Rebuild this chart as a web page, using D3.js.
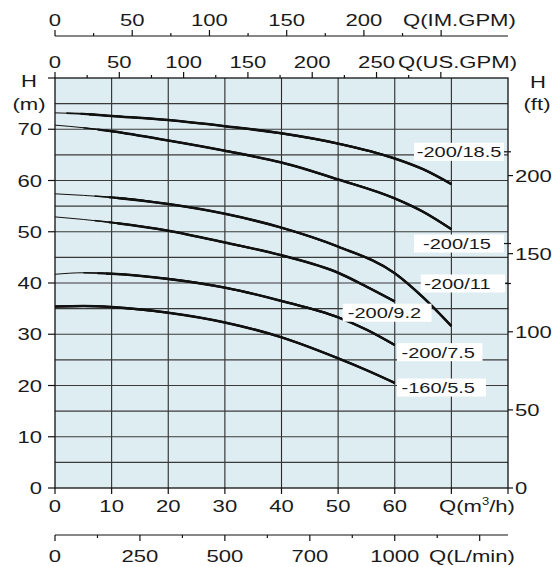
<!DOCTYPE html>
<html><head><meta charset="utf-8">
<script src="https://cdn.jsdelivr.net/npm/d3@7"></script>
<style>html,body{margin:0;padding:0;background:#fff}svg{display:block}text{font-family:"Liberation Sans",Arial,sans-serif;fill:#1a1a1a}</style>
</head><body><svg id="c" width="560" height="567"></svg>
<script>
// ---- data ----
const q70 = [0, 5, 10, 20, 30, 40, 50, 60, 65, 70];
const q60 = [0, 5, 10, 20, 30, 40, 50, 55, 60];
const h18_5 = [73.2, 73.0, 72.6, 71.8, 70.6, 69.2, 67.2, 64.3, 62.2, 59.3];
const h15   = [70.8, 70.3, 69.6, 67.8, 65.8, 63.5, 60.2, 56.5, 53.9, 50.5];
const h11   = [57.4, 57.1, 56.7, 55.4, 53.5, 50.8, 47.1, 41.9, 37.2, 31.6];
const h9_2  = [52.9, 52.4, 51.8, 50.2, 47.9, 45.4, 42.0, 39.3, 36.4];
const h7_5  = [41.7, 42.0, 41.8, 40.8, 39.1, 36.5, 33.3, 30.9, 27.9];
const h5_5  = [35.4, 35.5, 35.3, 34.2, 32.3, 29.4, 25.3, 23.0, 20.5];
const seriesNames = ["-200/18.5", "-200/15", "-200/11", "-200/9.2", "-200/7.5", "-160/5.5"];
const seriesQ = [q70, q70, q70, q60, q60, q60];
const seriesH = [h18_5, h15, h11, h9_2, h7_5, h5_5];
const thinTo = [6, 9, 11, 11, 9, 0];           // start of operating range (m3/h)
// label anchors in data units: [box q0, box q1, text q, centre H]
const labelAnchors = [[63.4, 79.3, 63.9, 65.6], [63.4, 79.3, 65.0, 47.7], [64.6, 79.5, 65.2, 39.9],
                      [50.8, 66.5, 51.7, 34.2], [60.4, 75.5, 61.2, 26.5], [60.4, 76.1, 61.2, 19.6]];
const qTicks = [0, 10, 20, 30, 40, 50, 60];
const hTicks = [0, 10, 20, 30, 40, 50, 60, 70];
const ftTicks = [0, 50, 100, 150, 200];
const imTickLabels = [0, 50, 100, 150, 200];
const usTickLabels = [0, 50, 100, 150, 200, 250];
const lminTickLabels = [[0, "0"], [250, "250"], [500, "500"], [750, "700"], [1000, "1000"]];

// ---- layout ----
const svg = d3.select("#c");
const L = 55, R = 508, T = 78, B = 488;
const x = d3.scaleLinear([0, 80], [L, R]);
const y = d3.scaleLinear([0, 80], [B, T]);
const yFt = d3.scaleLinear([0, 80 * 3.28084], [B, T]);
const xUS = d3.scaleLinear([0, 80 / 0.227125], [L, R]);
const xIM = d3.scaleLinear([0, 80 / 0.272765], [L, R]);
const xLm = d3.scaleLinear([0, 80 / 0.06], [L, R]);
const SX = 1.3, FS = 17;

function txt(px, py, s, anchor, size) {
  return svg.append("text").attr("transform", `translate(${px},${py}) scale(${SX},1)`)
    .attr("text-anchor", anchor || "middle").attr("font-size", size || FS).text(s);
}
function tick(x1, y1, x2, y2, w) {
  svg.append("line").attr("x1", x1).attr("y1", y1).attr("x2", x2).attr("y2", y2)
    .attr("stroke", "#111").attr("stroke-width", w || 1.2);
}

// background
svg.append("rect").attr("x", L).attr("y", T).attr("width", R - L).attr("height", B - T).attr("fill", "#deedf2");
// grid
svg.append("g").selectAll("line").data(d3.range(10, 80, 10)).join("line")
  .attr("x1", d => x(d)).attr("x2", d => x(d)).attr("y1", T).attr("y2", B)
  .attr("stroke", "#2a2a2a").attr("stroke-width", 1.1);
svg.append("g").selectAll("line").data(d3.range(5, 80, 5)).join("line")
  .attr("x1", L).attr("x2", R).attr("y1", d => y(d)).attr("y2", d => y(d))
  .attr("stroke", "#3a3a3a").attr("stroke-width", 1.1);

// curves: thin before operating range, gradually thickening
const line = d3.line().x(d => x(d[0])).y(d => y(d[1])).curve(d3.curveMonotoneX);
const defs = svg.append("defs");
const layers = [[-1e3, 1.0], [-4, 1.6], [-1.5, 2.1], [0, 2.5]];
seriesH.forEach((hs, i) => {
  const pts = seriesQ[i].map((q, j) => [q, hs[j]]);
  layers.forEach(([off, w], k) => {
    const id = `cl${i}_${k}`;
    defs.append("clipPath").attr("id", id).append("rect")
      .attr("x", Math.max(0, x(thinTo[i] + off))).attr("y", 0).attr("width", 600).attr("height", 600);
    svg.append("path").attr("d", line(pts)).attr("fill", "none").attr("stroke", "#111")
      .attr("stroke-width", w).attr("clip-path", `url(#${id})`);
  });
});

// labels
labelAnchors.forEach((a, i) => {
  const cy = y(a[3]);
  svg.append("rect").attr("x", x(a[0])).attr("y", cy - 9).attr("width", x(a[1]) - x(a[0])).attr("height", 18).attr("fill", "#fff");
  if (a[1] > 79) tick(x(a[1]), cy, R + 3, cy, 1.2);
  svg.append("text").attr("transform", `translate(${x(a[2])},${cy + 5.5}) scale(1.38,1)`)
    .attr("font-size", 14.5).attr("fill", "#111").text(seriesNames[i]);
});

// border
svg.append("rect").attr("x", L).attr("y", T).attr("width", R - L).attr("height", B - T)
  .attr("fill", "none").attr("stroke", "#111").attr("stroke-width", 1.3);

// bottom m3/h axis
d3.range(0, 81, 10).forEach(q => tick(x(q), B, x(q), B + 6));
qTicks.forEach(q => txt(x(q), 512, String(q)));
const qm = txt(439, 512, "Q(m", "start");
qm.append("tspan").attr("font-size", 10).attr("dy", -7).text("3");
qm.append("tspan").attr("dy", 7).text("/h)");

// bottom L/min axis
const yL = 535;
tick(L, yL, R, yL, 1.2);
d3.range(0, 1251, 125).forEach(v => tick(xLm(v), yL, xLm(v), yL + (v % 250 === 0 ? 6 : 3)));
lminTickLabels.forEach(([v, s]) => txt(xLm(v), 562, s));
txt(429, 562, "Q(L/min)", "start");

// top US.GPM axis (on plot top)
d3.range(0, 301, 25).forEach(v => tick(xUS(v), T, xUS(v), T - (v % 50 === 0 ? 6 : 3)));
usTickLabels.forEach(v => txt(xUS(v), 68, String(v)));
txt(398, 68, "Q(US.GPM)", "start");

// top IM.GPM axis
const yI = 36;
tick(L, yI, R, yI, 1.2);
d3.range(0, 251, 25).forEach(v => tick(xIM(v), yI, xIM(v), yI - (v % 50 === 0 ? 6 : 3)));
imTickLabels.forEach(v => txt(xIM(v), 26, String(v)));
txt(403, 26, "Q(IM.GPM)", "start");

// left H(m) axis
d3.range(0, 81, 10).forEach(v => tick(L - 7, y(v), L, y(v)));
hTicks.forEach(v => txt(42, y(v) + 6, String(v), "end"));
txt(29, 87, "H");
txt(29, 110, "(m)");

// right H(ft) axis
ftTicks.forEach(v => tick(R, yFt(v), R + 5, yFt(v)));
ftTicks.forEach(v => txt(515, yFt(v) + 6, String(v), "start"));
txt(538, 88, "H");
txt(537, 110, "(ft)");
</script></body></html>
